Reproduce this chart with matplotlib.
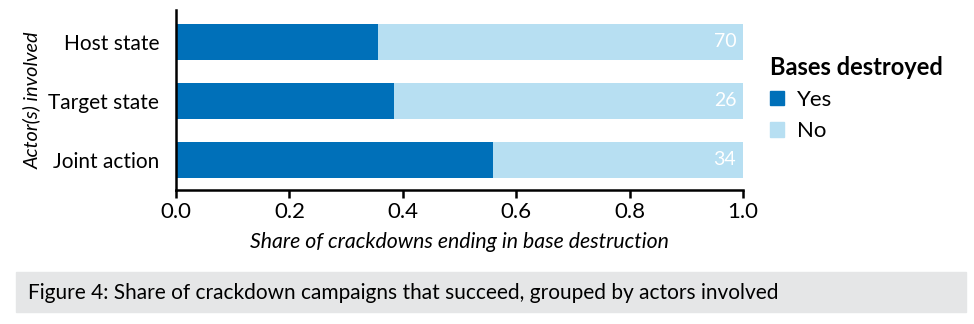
import matplotlib.pyplot as plt
from matplotlib.patches import Patch, Rectangle

plt.rcParams['font.family'] = ['Lato', 'DejaVu Sans']

# crackdown campaigns by actor(s) involved
actors = ["Joint action", "Target state", "Host state"]
destroyed = [19, 10, 25]
totals = [34, 26, 70]

dark_blue = "#0070b9"
light_blue = "#b7dff2"

share_yes = [d / t for d, t in zip(destroyed, totals)]
share_no = [1 - s for s in share_yes]

fig = plt.figure(figsize=(9.74, 3.24), dpi=100)
ax = fig.add_axes([0.1807, 0.4136, 0.5821, 0.5555])

ypos = range(len(actors))
ax.barh(ypos, share_yes, height=0.61, color=dark_blue)
ax.barh(ypos, share_no, left=share_yes, height=0.61, color=light_blue)

for y, t in zip(ypos, totals):
    ax.text(0.988, y, str(t), ha="right", va="center", color="white", fontsize=14)

ax.set_xlim(0, 1.0)
ax.set_ylim(-0.51, 2.54)
ax.set_yticks(list(ypos))
ax.set_yticklabels(actors, fontsize=15)
ax.set_xticks([0.0, 0.2, 0.4, 0.6, 0.8, 1.0])
ax.set_xticklabels(["0.0", "0.2", "0.4", "0.6", "0.8", "1.0"], fontsize=16)
ax.tick_params(axis="y", length=0, pad=12)
ax.tick_params(axis="x", length=6, width=1.8, pad=3)

for side in ["top", "right"]:
    ax.spines[side].set_visible(False)
for side in ["left", "bottom"]:
    ax.spines[side].set_linewidth(1.8)

ax.set_xlabel("Share of crackdowns ending in base destruction", fontsize=15.3,
              style="italic", labelpad=7)
ax.set_ylabel("Actor(s) involved", fontsize=14.3, style="italic")
ax.yaxis.set_label_coords(-0.238, 0.5)

handles = [Patch(color=dark_blue, label="Yes"), Patch(color=light_blue, label="No")]
leg = fig.legend(handles=handles, title="Bases destroyed", loc="upper left",
                 bbox_to_anchor=(0.775, 0.875), frameon=False, fontsize=16,
                 title_fontsize=17, handlelength=0.6, handleheight=0.6,
                 handletextpad=0.6, labelspacing=0.5, alignment="left",
                 borderpad=0.2)
leg.get_title().set_fontweight("bold")

# caption box
fig.patches.append(Rectangle((16 / 974, 1 - 312 / 324), 950 / 974, 40 / 324,
                             transform=fig.transFigure, color="#e5e6e7", zorder=0))
fig.text(28 / 974, 1 - 293 / 324,
         "Figure 4: Share of crackdown campaigns that succeed, grouped by actors involved",
         fontsize=15, va="center", ha="left")

fig.savefig("out.png", dpi=100)
